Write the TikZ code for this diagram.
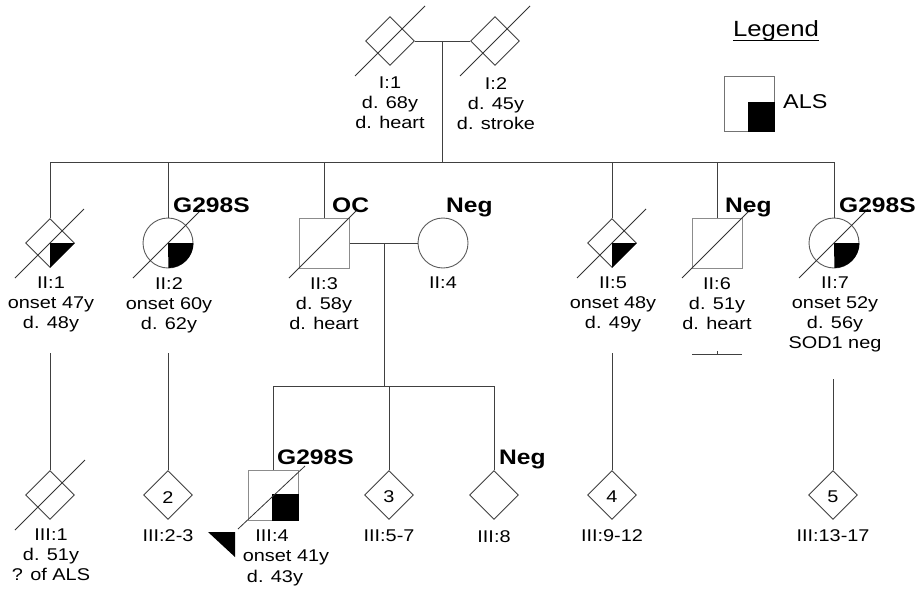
\documentclass[tikz,border=0pt]{standalone}
\usepackage{fontspec}
\setmainfont{Liberation Sans}[FakeStretch=1.17]
\usetikzlibrary{shapes.geometric,calc}
\definecolor{lin}{HTML}{404040}
\definecolor{sqc}{HTML}{8C8C8C}
\definecolor{cic}{HTML}{5A5A5A}
\begin{document}
\begin{tikzpicture}[x=1pt,y=-1pt,
  ln/.style={draw=lin,line width=0.9pt},
  slash/.style={draw=black!80,line width=0.8pt},
  diam/.style={diamond,draw=lin,line width=0.9pt,minimum width=49pt,minimum height=49pt,inner sep=0pt},
  sqr/.style={rectangle,draw=sqc,line width=1pt,minimum width=50pt,minimum height=50pt,inner sep=0pt},
  circ/.style={circle,draw=cic,line width=0.9pt,minimum size=50pt,inner sep=0pt},
  info/.style={font=\fontsize{17}{20}\selectfont,align=center,anchor=north,inner sep=0pt},
  num/.style={font=\fontsize{17}{20}\selectfont,inner sep=0pt},
  gtag/.style={font=\fontsize{21}{24}\selectfont\bfseries,anchor=base west,inner sep=0pt}]
\useasboundingbox (0,0) rectangle (918,592);

% ---------- Generation I ----------
\node[diam] (d1) at (390,41) {};
\node[diam] (d2) at (495,41) {};
\draw[slash] ([shift={(-35,35)}]d1.center) -- ([shift={(35,-35)}]d1.center);
\draw[slash] ([shift={(-35,35)}]d2.center) -- ([shift={(35,-35)}]d2.center);
\node[info] (t1) at (390,77) {I:1\\d. 68y\\d. heart};
\node[info] (t2) at (496,77) {I:2\\d. 45y\\d. stroke};
\coordinate (m1) at (442,41);
\coordinate (s1) at (442,162);
\draw[ln] (d1.east) -- (d2.west);
\draw[ln] (m1) -- (s1);

% ---------- Legend ----------
\node[font=\fontsize{22}{24}\selectfont,anchor=base,inner sep=0pt] (leg) at (776,36.7) {Legend};
\draw[line width=0.9pt] ($(leg.base west)+(0,3.5)$) -- ($(leg.base east)+(0,3.5)$);
\node[rectangle,draw=black!55,line width=1pt,minimum width=50pt,minimum height=55pt,inner sep=0pt] (ls) at (749,103.5) {};
\fill[black] ([shift={(-1,-1.5)}]ls.center) rectangle (ls.south east);
\node[font=\fontsize{20}{22}\selectfont,anchor=base west,inner sep=0pt] (als) at (783,108.3) {ALS};

% ---------- Generation II ----------
\node[diam] (d21) at (50,243) {};
\node[circ] (c22) at (168,243) {};
\node[sqr]  (s23) at (324,243) {};
\node[circ] (c24) at (443,243) {};
\node[diam] (d25) at (612,243) {};
\node[sqr]  (s26) at (717,243) {};
\node[circ] (c27) at (834,243) {};

\fill[black] (d21.center) -- (d21.east) -- (d21.south) -- cycle;
\fill[black] (d25.center) -- (d25.east) -- (d25.south) -- cycle;
\fill[black] (c22.center) -- (c22.east) arc[start angle=0,end angle=90,radius=25] -- cycle;
\fill[black] (c27.center) -- (c27.east) arc[start angle=0,end angle=90,radius=25] -- cycle;

\foreach \n in {d21,c22,s23,d25,s26,c27}
  \draw[slash] ([shift={(-35,35)}]\n.center) -- ([shift={(34,-34)}]\n.center);

\coordinate (sL) at (50,162);
\coordinate (sR) at (834,162);
\draw[ln] (sL) -- (sR);
\foreach \n in {d21,c22,s23,d25,s26,c27}
  \draw[ln] (\n.north |- sL) -- (\n.north);

\node[gtag] (g22) at (173,212) {G298S};
\node[gtag] (g23) at (332,212) {OC};
\node[gtag] (g24) at (446,212) {Neg};
\node[gtag] (g26) at (725,212) {Neg};
\node[gtag] (g27) at (839,212) {G298S};

\node[info] (t21) at (51,277) {II:1\\onset 47y\\d. 48y};
\node[info] (t22) at (169,277) {II:2\\onset 60y\\d. 62y};
\node[info] (t23) at (324,277) {II:3\\d. 58y\\d. heart};
\node[info] (t24) at (443,277) {II:4};
\node[info] (t25) at (613,277) {II:5\\onset 48y\\d. 49y};
\node[info] (t26) at (717,277) {II:6\\d. 51y\\d. heart};
\node[info] (t27) at (835,277) {II:7\\onset 52y\\d. 56y\\SOD1 neg};

% marriage II:3 - II:4
\coordinate (m2) at (384,243);
\coordinate (s2) at (384,386);
\draw[ln] (s23.east) -- (c24.west);
\draw[ln] (m2) -- (s2);

% no offspring II:6
\coordinate (no1) at (692,354);
\coordinate (no2) at (742,354);
\coordinate (no3) at (717,351);
\coordinate (no4) at (717,354);
\draw[ln,line width=0.8pt] (no1) -- (no2);
\draw[ln,line width=0.7pt] (no3) -- (no4);

% ---------- Generation III ----------
\node[diam] (d31) at (50,495) {};
\node[diam] (d32) at (168,495) {};
\node[sqr]  (s34) at (273,495) {};
\node[diam] (d35) at (389,495) {};
\node[diam] (d38) at (494,495) {};
\node[diam] (d39) at (612,495) {};
\node[diam] (d313) at (833,495) {};

\draw[slash] ([shift={(-35,35)}]d31.center) -- ([shift={(35,-35)}]d31.center);
\fill[black] ([shift={(-1,-1)}]s34.center) rectangle (s34.south east);
\draw[slash] ([shift={(-35,34)}]s34.center) -- ([shift={(32,-29)}]s34.center);
\fill[black] (208,532) -- (235,532) -- (235,557) -- cycle;

\node[num] (n2) at (168,498) {2};
\node[num] (n3) at (389,497) {3};
\node[num] (n4) at (612,497) {4};
\node[num] (n5) at (833,497) {5};

% descent lines
\coordinate (a1) at (50,353);
\coordinate (a2) at (168,353);
\coordinate (a5) at (612,353);
\coordinate (a7) at (833,379);
\draw[ln] (a1) -- (d31.north);
\draw[ln] (a2) -- (d32.north);
\draw[ln] (a5) -- (d39.north);
\draw[ln] (a7) -- (d313.north);

% sibship III
\draw[ln] (s34.north |- s2) -- (d38.north |- s2);
\foreach \n in {s34,d35,d38}
  \draw[ln] (\n.north |- s2) -- (\n.north);

\node[gtag] (g34) at (277,464) {G298S};
\node[gtag] (g38) at (499,464) {Neg};

\node[info] (t31) at (51,529) {III:1\\d. 51y\\? of ALS};
\node[info] (t32) at (168,529) {III:2-3};
\node[info] (t34a) at (272,530) {III:4};
\node[info] (t34b) at (286,550) {onset 41y};
\node[info] (t34c) at (275,570) {d. 43y};
\node[info] (t35) at (389,530) {III:5-7};
\node[info] (t38) at (494,530) {III:8};
\node[info] (t39) at (612,529) {III:9-12};
\node[info] (t313) at (833,529) {III:13-17};
\end{tikzpicture}
\end{document}
